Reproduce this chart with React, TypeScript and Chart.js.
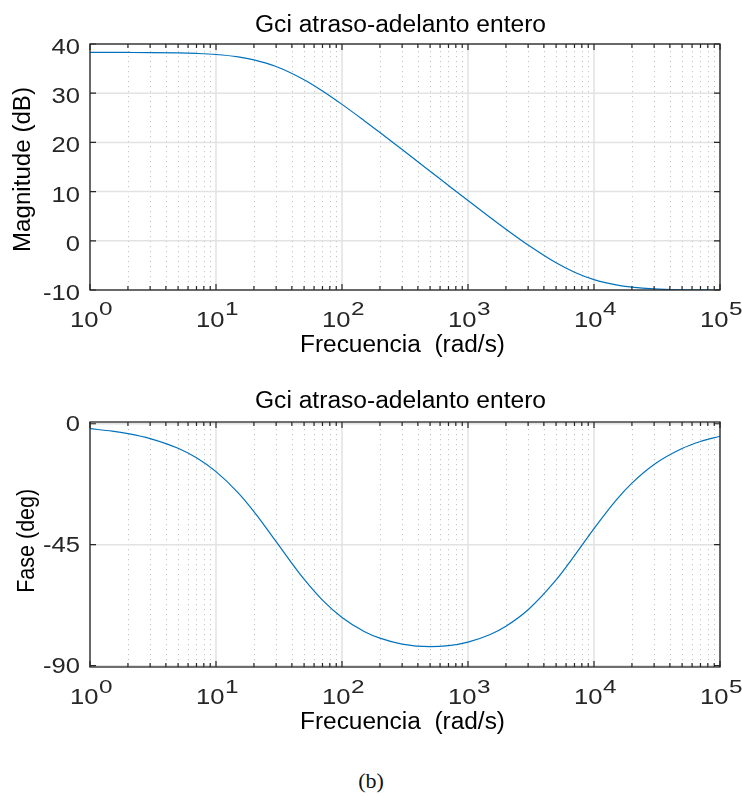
import React, { useEffect, useRef } from 'react';
import { Chart, registerables } from 'chart.js';

Chart.register(...registerables);

// ---- data ----
const freq = [1, 1.5, 2, 3, 5, 7, 10, 15, 20, 30, 50, 70, 100, 150, 200, 300, 500, 700, 1000, 1500, 2000, 3000, 5000, 7000, 10000, 15000, 20000, 30000, 50000, 70000, 100000];
const magnitudeDb = [38.3, 38.29, 38.28, 38.26, 38.19, 38.08, 37.87, 37.39, 36.79, 35.43, 32.74, 30.45, 27.73, 24.42, 22.01, 18.54, 14.15, 11.25, 8.19, 4.75, 2.36, -0.86, -4.47, -6.38, -7.88, -8.97, -9.43, -9.79, -9.96, -9.99, -10.0];
const phaseDeg = [-1.84, -2.76, -3.68, -5.51, -9.13, -12.67, -17.81, -25.71, -32.69, -43.85, -57.85, -65.62, -72.08, -77.27, -79.78, -81.99, -82.94, -82.55, -81.22, -78.39, -75.32, -69.2, -58.11, -49.09, -39.0, -28.4, -22.08, -15.14, -9.22, -6.61, -4.64];
const xTickExponents = [0, 1, 2, 3, 4, 5];
const magTicks = [-10, 0, 10, 20, 30, 40];
const phaseTicks = [-90, -45, 0];
const titleText = 'Gci atraso-adelanto entero';
const xLabelText = 'Frecuencia  (rad/s)';
const magLabelText = 'Magnitude (dB)';
const phaseLabelText = 'Fase (deg)';
const captionText = '(b)';

// ---- style ----
const SANS = '"Liberation Sans", Arial, Helvetica, sans-serif';
const TICK_FONT = `21.5px ${SANS}`;
const EXP_FONT = `18px ${SANS}`;
const LABEL_FONT = `23px ${SANS}`;
const TICK_SX = 1.19;
const EXP_SX = 1.35;
const AXIS_COLOR = '#262626';
const LINE_COLOR = '#0072BD';
const W = 742;

type PlotSpec = {
  height: number;
  padTop: number;
  padBottom: number;
  yMin: number;
  yMax: number;
  yTicks: number[];
  values: number[];
  yLabel: string;
  yLabelWidth: number;
  yLabelX: number;
  yLabelCenter: number;
  titleBaseline: number;
  xLabelBaseline: number;
  tickBaseline: number;
  expBaseline: number;
  yTickOffset: number;
};

function drawScaled(ctx: CanvasRenderingContext2D, text: string, x: number, y: number, font: string, sx: number, align: CanvasTextAlign, color: string) {
  ctx.save();
  ctx.font = font;
  ctx.fillStyle = color;
  ctx.textAlign = align;
  ctx.textBaseline = 'alphabetic';
  ctx.translate(x, y);
  ctx.scale(sx, 1);
  ctx.fillText(text, 0, 0);
  ctx.restore();
}

function drawFit(ctx: CanvasRenderingContext2D, text: string, x: number, y: number, font: string, width: number, rotate: boolean, color: string) {
  ctx.save();
  ctx.font = font;
  const w = ctx.measureText(text).width;
  ctx.fillStyle = color;
  ctx.textAlign = 'center';
  ctx.textBaseline = 'alphabetic';
  ctx.translate(x, y);
  if (rotate) ctx.rotate(-Math.PI / 2);
  ctx.scale(width / w, 1);
  ctx.fillText(text, 0, 0);
  ctx.restore();
}

function minorValues(): number[] {
  const out: number[] = [];
  for (let d = 0; d < 5; d++) {
    for (let m = 2; m <= 9; m++) out.push(m * Math.pow(10, d));
  }
  return out;
}

function makePlugin(spec: PlotSpec) {
  return {
    id: 'bodeDecor',
    beforeDatasetsDraw(chart: any) {
      const { ctx, chartArea: a, scales } = chart;
      const x = scales.x;
      const y = scales.y;
      ctx.save();
      // minor dotted grid
      ctx.strokeStyle = 'rgba(38,38,38,0.27)';
      ctx.lineWidth = 1;
      ctx.setLineDash([1.2, 3.8]);
      for (const v of minorValues()) {
        const px = Math.round(x.getPixelForValue(v)) + 0.5;
        ctx.beginPath();
        ctx.moveTo(px, a.top + 2);
        ctx.lineTo(px, a.bottom);
        ctx.stroke();
      }
      // major grid
      ctx.setLineDash([]);
      ctx.strokeStyle = '#e2e2e2';
      ctx.lineWidth = 1.5;
      for (const e of xTickExponents) {
        const px = x.getPixelForValue(Math.pow(10, e));
        ctx.beginPath();
        ctx.moveTo(px, a.top);
        ctx.lineTo(px, a.bottom);
        ctx.stroke();
      }
      for (const t of spec.yTicks) {
        const py = y.getPixelForValue(t);
        ctx.beginPath();
        ctx.moveTo(a.left, py);
        ctx.lineTo(a.right, py);
        ctx.stroke();
      }
      ctx.restore();
    },
    afterDatasetsDraw(chart: any) {
      const { ctx, chartArea: a, scales } = chart;
      const x = scales.x;
      const y = scales.y;
      ctx.save();
      // box
      ctx.strokeStyle = AXIS_COLOR;
      ctx.lineWidth = 1.3;
      ctx.strokeRect(a.left, a.top, a.right - a.left, a.bottom - a.top);
      // tick marks
      ctx.lineWidth = 1.2;
      for (const v of minorValues()) {
        const px = x.getPixelForValue(v);
        ctx.beginPath();
        ctx.moveTo(px, a.bottom);
        ctx.lineTo(px, a.bottom - 4);
        ctx.moveTo(px, a.top);
        ctx.lineTo(px, a.top + 4);
        ctx.stroke();
      }
      for (const e of xTickExponents) {
        const px = x.getPixelForValue(Math.pow(10, e));
        ctx.beginPath();
        ctx.moveTo(px, a.bottom);
        ctx.lineTo(px, a.bottom - 6);
        ctx.moveTo(px, a.top);
        ctx.lineTo(px, a.top + 6);
        ctx.stroke();
      }
      for (const t of spec.yTicks) {
        const py = y.getPixelForValue(t);
        ctx.beginPath();
        ctx.moveTo(a.left, py);
        ctx.lineTo(a.left + 6, py);
        ctx.moveTo(a.right, py);
        ctx.lineTo(a.right - 6, py);
        ctx.stroke();
      }
      ctx.restore();

      // y tick labels
      for (const t of spec.yTicks) {
        const py = y.getPixelForValue(t);
        drawScaled(ctx, String(t), a.left - 10, py + spec.yTickOffset, TICK_FONT, TICK_SX, 'right', AXIS_COLOR);
      }
      // x tick labels 10^e
      for (const e of xTickExponents) {
        const px = x.getPixelForValue(Math.pow(10, e));
        const exp = String(e);
        ctx.font = TICK_FONT;
        const w1 = ctx.measureText('10').width * TICK_SX;
        ctx.font = EXP_FONT;
        const w2 = ctx.measureText(exp).width * EXP_SX;
        const start = px - (w1 + w2) / 2 + 1;
        drawScaled(ctx, '10', start, spec.tickBaseline, TICK_FONT, TICK_SX, 'left', AXIS_COLOR);
        drawScaled(ctx, exp, start + w1 + 0.5, spec.expBaseline, EXP_FONT, EXP_SX, 'left', AXIS_COLOR);
      }
      // title, axis labels
      drawFit(ctx, titleText, 400.5, spec.titleBaseline, LABEL_FONT, 291, false, '#000');
      drawFit(ctx, xLabelText, 402.5, spec.xLabelBaseline, LABEL_FONT, 205, false, '#000');
      drawFit(ctx, spec.yLabel, spec.yLabelX, spec.yLabelCenter, LABEL_FONT, spec.yLabelWidth, true, '#000');
    },
  };
}

function BodePlot({ spec }: { spec: PlotSpec }) {
  const ref = useRef<HTMLCanvasElement | null>(null);
  useEffect(() => {
    if (!ref.current) return;
    const chart = new Chart(ref.current, {
      type: 'line',
      data: {
        datasets: [
          {
            data: freq.map((f, i) => ({ x: f, y: spec.values[i] })),
            borderColor: LINE_COLOR,
            borderWidth: 1.2,
            pointRadius: 0,
            cubicInterpolationMode: 'monotone',
            fill: false,
          },
        ],
      },
      options: {
        responsive: false,
        animation: false,
        devicePixelRatio: 1,
        events: [],
        layout: { padding: { left: 90, right: 22, top: spec.padTop, bottom: spec.padBottom } },
        plugins: { legend: { display: false }, title: { display: false }, tooltip: { enabled: false } },
        scales: {
          x: { type: 'logarithmic', min: 1, max: 100000, display: false },
          y: { type: 'linear', min: spec.yMin, max: spec.yMax, display: false },
        },
      },
      plugins: [makePlugin(spec)],
    } as any);
    return () => chart.destroy();
  }, [spec]);
  return <canvas ref={ref} width={W} height={spec.height} style={{ display: 'block', width: W, height: spec.height }} />;
}

const magSpec: PlotSpec = {
  height: 370,
  padTop: 44,
  padBottom: 80,
  yMin: -10,
  yMax: 40,
  yTicks: magTicks,
  values: magnitudeDb,
  yLabel: magLabelText,
  yLabelWidth: 165,
  yLabelX: 30,
  yLabelCenter: 169.5,
  titleBaseline: 32,
  xLabelBaseline: 352,
  tickBaseline: 326.5,
  expBaseline: 315,
  yTickOffset: 10,
};

const phaseSpec: PlotSpec = {
  height: 380,
  padTop: 52,
  padBottom: 83,
  yMin: -90.5,
  yMax: 0.65,
  yTicks: phaseTicks,
  values: phaseDeg,
  yLabel: phaseLabelText,
  yLabelWidth: 104,
  yLabelX: 33.5,
  yLabelCenter: 170.8,
  titleBaseline: 38,
  xLabelBaseline: 358.5,
  tickBaseline: 334,
  expBaseline: 323,
  yTickOffset: 7.6,
};

export default function App() {
  return (
    <div style={{ position: 'absolute', left: 0, top: 0, width: W, height: 796, background: '#fff', overflow: 'hidden' }}>
      <div style={{ position: 'absolute', left: 0, top: 0 }}>
        <BodePlot spec={magSpec} />
      </div>
      <div style={{ position: 'absolute', left: 0, top: 370 }}>
        <BodePlot spec={phaseSpec} />
      </div>
      <div
        style={{
          position: 'absolute',
          left: 0,
          top: 769,
          width: W,
          textAlign: 'center',
          fontFamily: '"Liberation Serif", "Times New Roman", serif',
          fontSize: 22,
          lineHeight: '24px',
          color: '#111',
        }}
      >
        {captionText}
      </div>
    </div>
  );
}
